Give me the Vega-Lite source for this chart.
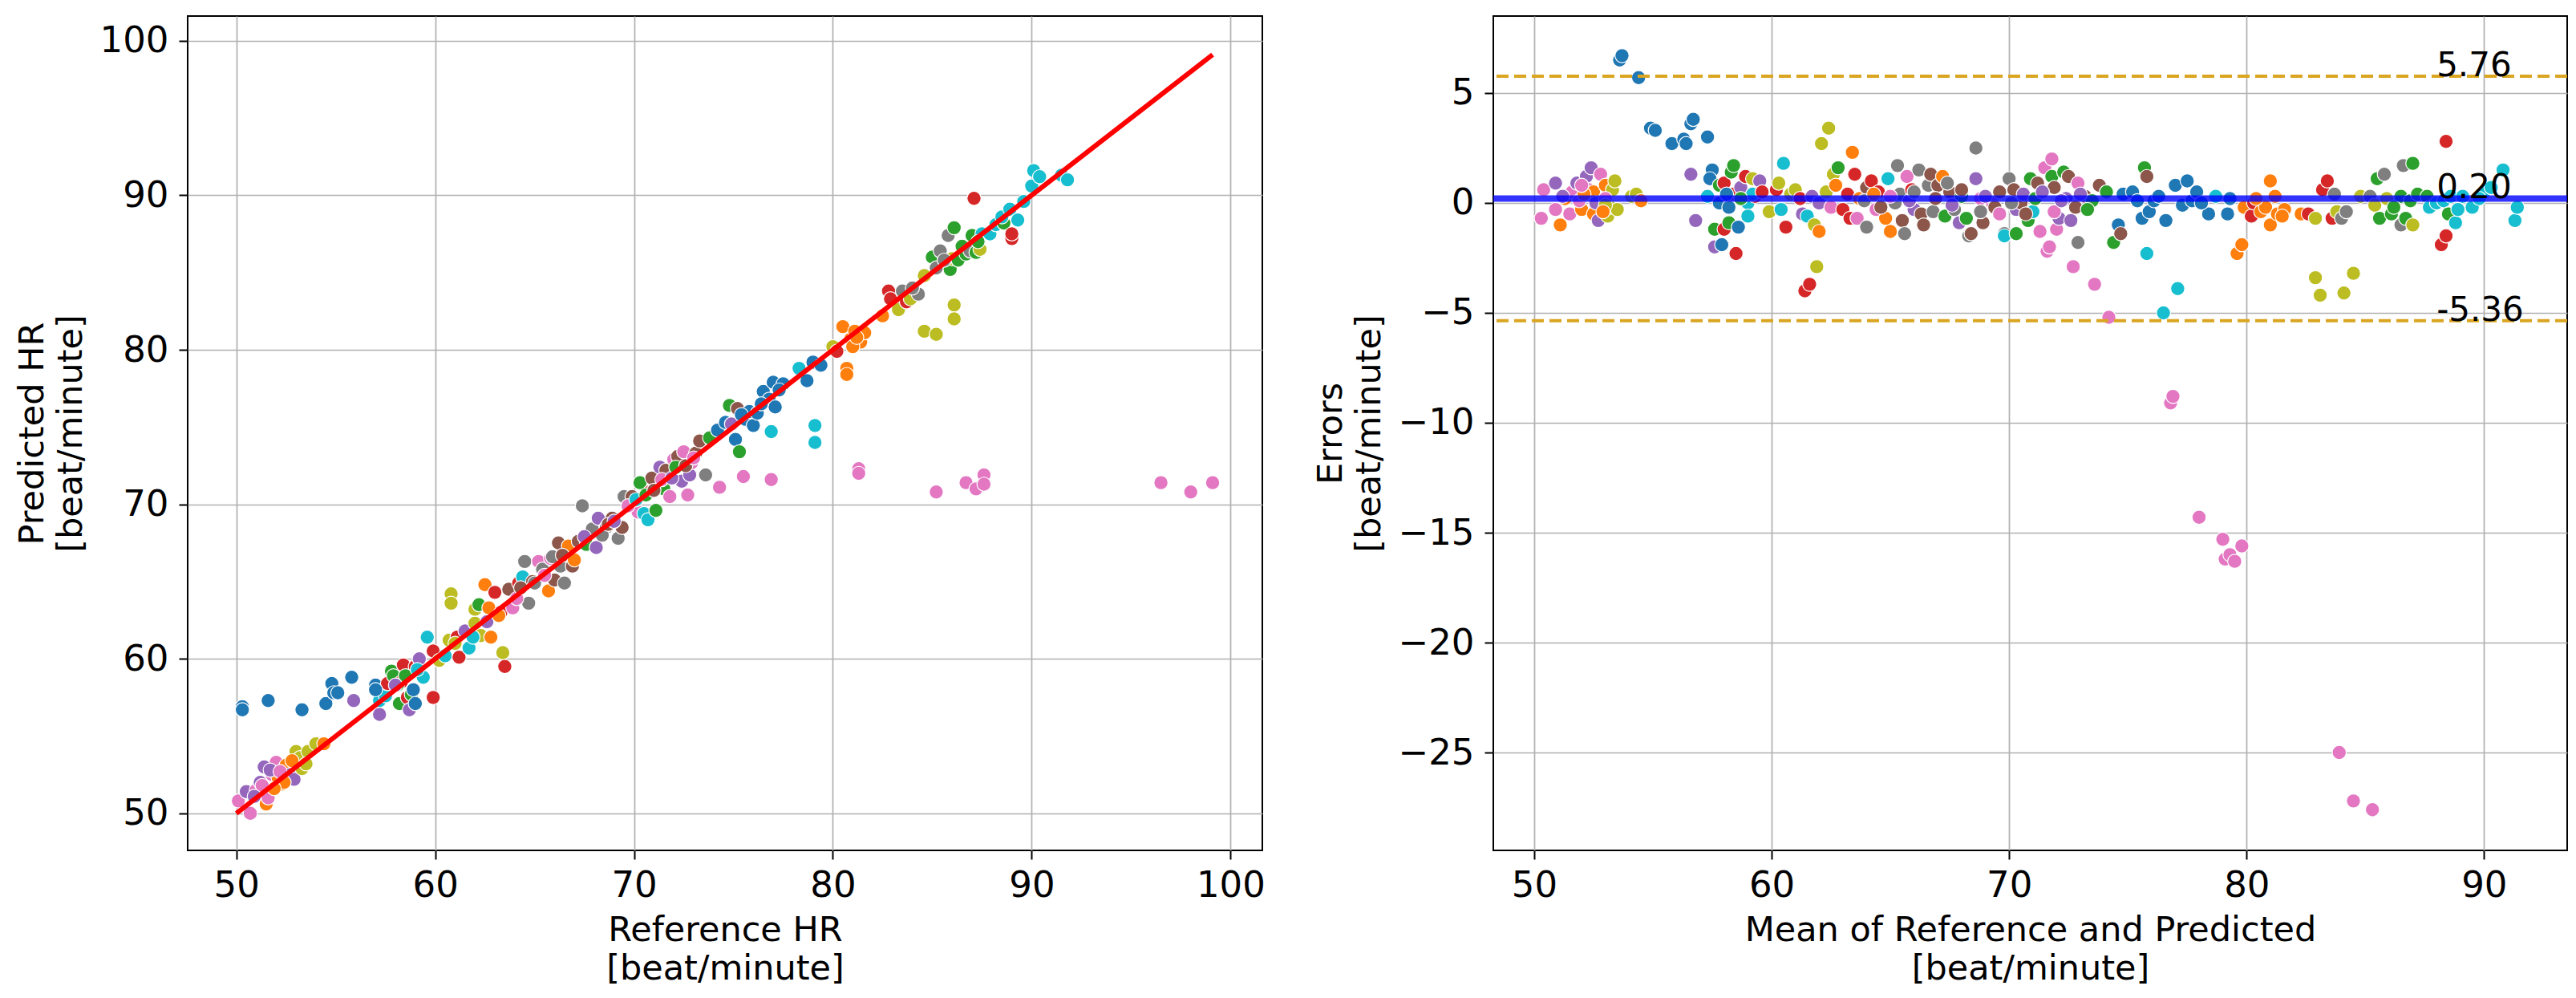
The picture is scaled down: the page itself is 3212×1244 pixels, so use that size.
{
  "$schema": "https://vega.github.io/schema/vega-lite/v6.json",
  "padding": {"left": 18, "top": 19, "right": 10, "bottom": 10},
  "background": "white",
  "spacing": 58,
  "datasets": {
    "hr": [
      {"c":"pink","ref":50.1,"pred":50.8},{"c":"purple","ref":50.5,"pred":51.4},{"c":"pink","ref":50.7,"pred":50.0},
      {"c":"pink","ref":51.0,"pred":51.5},{"c":"purple","ref":51.2,"pred":52.0},{"c":"purple","ref":51.4,"pred":53.0},
      {"c":"orange","ref":51.5,"pred":50.6},{"c":"pink","ref":51.6,"pred":51.0},{"c":"pink","ref":51.8,"pred":52.5},
      {"c":"pink","ref":52.0,"pred":53.3},{"c":"orange","ref":52.1,"pred":52.3},{"c":"orange","ref":52.3,"pred":51.9},
      {"c":"orange","ref":52.5,"pred":53.1},{"c":"purple","ref":52.7,"pred":52.5},{"c":"purple","ref":52.9,"pred":52.2},
      {"c":"olive","ref":53.0,"pred":54.0},{"c":"olive","ref":53.2,"pred":53.6},{"c":"olive","ref":53.3,"pred":52.9},
      {"c":"orange","ref":52.4,"pred":52.0},{"c":"orange","ref":51.9,"pred":51.6},{"c":"olive","ref":53.6,"pred":54.0},
      {"c":"olive","ref":54.0,"pred":54.5},{"c":"orange","ref":54.4,"pred":54.5},
      {"c":"pink","ref":51.3,"pred":51.8},{"c":"purple","ref":51.7,"pred":52.8},{"c":"orange","ref":52.8,"pred":53.4},
      {"c":"olive","ref":53.5,"pred":53.2},{"c":"pink","ref":52.2,"pred":52.7},{"c":"purple","ref":50.9,"pred":51.1},
      {"c":"blue","ref":50.3,"pred":56.9},{"c":"blue","ref":50.3,"pred":56.7},{"c":"blue","ref":51.6,"pred":57.3},
      {"c":"blue","ref":53.3,"pred":56.7},{"c":"blue","ref":54.5,"pred":57.1},{"c":"blue","ref":54.8,"pred":58.4},
      {"c":"blue","ref":54.9,"pred":57.8},{"c":"blue","ref":55.1,"pred":57.8},{"c":"blue","ref":55.8,"pred":58.8},
      {"c":"blue","ref":57.0,"pred":58.3},{"c":"purple","ref":55.9,"pred":57.3},{"c":"purple","ref":57.2,"pred":56.4},
      {"c":"cyan","ref":57.2,"pred":57.3},{"c":"cyan","ref":57.5,"pred":57.6},{"c":"red","ref":57.6,"pred":58.4},
      {"c":"green","ref":57.8,"pred":59.2},{"c":"green","ref":57.9,"pred":58.9},{"c":"green","ref":58.2,"pred":57.1},
      {"c":"red","ref":58.3,"pred":58.5},{"c":"red","ref":58.4,"pred":59.6},{"c":"red","ref":58.6,"pred":57.5},
      {"c":"purple","ref":58.7,"pred":56.7},{"c":"green","ref":58.8,"pred":57.7},{"c":"blue","ref":59.0,"pred":57.1},
      {"c":"red","ref":59.0,"pred":59.5},{"c":"purple","ref":59.2,"pred":60.0},{"c":"cyan","ref":59.4,"pred":58.8},
      {"c":"cyan","ref":59.6,"pred":61.4},{"c":"red","ref":59.9,"pred":57.5},{"c":"red","ref":59.9,"pred":60.5},
      {"c":"blue","ref":57.0,"pred":58.0},{"c":"green","ref":58.1,"pred":58.3},
      {"c":"green","ref":58.5,"pred":58.9},{"c":"blue","ref":58.9,"pred":58.0},{"c":"cyan","ref":59.1,"pred":59.3},
      {"c":"purple","ref":58.0,"pred":58.3},
      {"c":"olive","ref":60.2,"pred":59.9},{"c":"cyan","ref":60.5,"pred":60.2},{"c":"olive","ref":60.7,"pred":61.2},
      {"c":"olive","ref":60.8,"pred":64.2},{"c":"olive","ref":60.8,"pred":63.6},{"c":"red","ref":61.1,"pred":61.4},
      {"c":"red","ref":61.2,"pred":60.1},{"c":"purple","ref":61.5,"pred":61.8},{"c":"cyan","ref":61.7,"pred":60.7},
      {"c":"olive","ref":62.0,"pred":63.2},{"c":"olive","ref":62.0,"pred":62.3},{"c":"green","ref":62.2,"pred":63.5},
      {"c":"olive","ref":62.3,"pred":61.5},{"c":"orange","ref":62.5,"pred":64.8},{"c":"orange","ref":62.7,"pred":63.3},
      {"c":"orange","ref":62.8,"pred":61.4},{"c":"red","ref":63.0,"pred":64.3},{"c":"red","ref":63.3,"pred":63.0},
      {"c":"olive","ref":63.4,"pred":60.4},{"c":"red","ref":63.5,"pred":59.5},{"c":"brown","ref":63.7,"pred":64.5},
      {"c":"pink","ref":63.9,"pred":63.3},{"c":"red","ref":64.2,"pred":64.9},{"c":"cyan","ref":64.4,"pred":65.3},
      {"c":"gray","ref":64.5,"pred":66.3},{"c":"gray","ref":64.7,"pred":63.6},{"c":"brown","ref":64.9,"pred":65.0},
      {"c":"pink","ref":65.2,"pred":66.3},{"c":"gray","ref":65.4,"pred":65.8},{"c":"orange","ref":65.7,"pred":64.4},
      {"c":"brown","ref":66.0,"pred":65.1},{"c":"pink","ref":65.8,"pred":66.5},{"c":"brown","ref":66.2,"pred":67.5},
      {"c":"gray","ref":66.3,"pred":66.0},{"c":"gray","ref":66.5,"pred":64.9},{"c":"orange","ref":66.7,"pred":67.3},
      {"c":"brown","ref":66.9,"pred":66.0},{"c":"brown","ref":67.2,"pred":67.6},{"c":"gray","ref":67.4,"pred":69.9},
      {"c":"green","ref":67.6,"pred":67.4},{"c":"gray","ref":67.9,"pred":68.4},{"c":"purple","ref":68.1,"pred":67.2},
      {"c":"purple","ref":68.2,"pred":69.1},{"c":"gray","ref":68.6,"pred":68.5},{"c":"brown","ref":68.9,"pred":69.1},
      {"c":"gray","ref":69.2,"pred":67.8},{"c":"brown","ref":69.4,"pred":68.5},{"c":"gray","ref":69.5,"pred":70.5},
      {"c":"brown","ref":69.9,"pred":70.5},{"c":"pink","ref":70.2,"pred":69.5},{"c":"green","ref":70.3,"pred":71.4},
      {"c":"cyan","ref":70.5,"pred":69.4},{"c":"cyan","ref":70.7,"pred":69.0},{"c":"red","ref":70.8,"pred":70.8},
      {"c":"brown","ref":70.9,"pred":71.7},{"c":"green","ref":71.1,"pred":69.6},{"c":"purple","ref":71.3,"pred":72.4},
      {"c":"green","ref":71.5,"pred":71.0},{"c":"brown","ref":71.6,"pred":72.2},{"c":"pink","ref":71.8,"pred":70.5},
      {"c":"pink","ref":72.0,"pred":72.9},{"c":"brown","ref":72.2,"pred":73.1},{"c":"purple","ref":72.4,"pred":71.5},
      {"c":"pink","ref":72.5,"pred":73.4},{"c":"pink","ref":72.7,"pred":70.6},{"c":"purple","ref":72.8,"pred":71.9},
      {"c":"pink","ref":72.9,"pred":72.7},{"c":"brown","ref":73.1,"pred":73.3},{"c":"brown","ref":73.3,"pred":74.1},
      {"c":"olive","ref":61.0,"pred":61.0},{"c":"cyan","ref":61.9,"pred":61.4},{"c":"purple","ref":62.6,"pred":62.4},
      {"c":"orange","ref":63.2,"pred":62.8},{"c":"pink","ref":64.1,"pred":63.9},{"c":"brown","ref":64.3,"pred":64.6},
      {"c":"gray","ref":65.0,"pred":64.9},{"c":"pink","ref":65.5,"pred":65.4},{"c":"gray","ref":65.9,"pred":66.6},
      {"c":"brown","ref":66.4,"pred":66.7},{"c":"orange","ref":67.0,"pred":66.4},{"c":"purple","ref":67.5,"pred":67.9},
      {"c":"gray","ref":68.4,"pred":68.0},{"c":"brown","ref":68.7,"pred":68.7},{"c":"purple","ref":69.0,"pred":68.9},
      {"c":"pink","ref":69.7,"pred":69.9},{"c":"cyan","ref":70.1,"pred":70.3},{"c":"green","ref":70.6,"pred":70.6},
      {"c":"brown","ref":71.0,"pred":70.9},{"c":"pink","ref":71.4,"pred":71.6},{"c":"purple","ref":71.9,"pred":71.7},
      {"c":"green","ref":72.1,"pred":72.4},{"c":"brown","ref":72.6,"pred":72.5},{"c":"pink","ref":73.0,"pred":73.0},
      {"c":"gray","ref":73.6,"pred":71.9},{"c":"green","ref":73.8,"pred":74.3},{"c":"blue","ref":74.2,"pred":74.8},
      {"c":"pink","ref":74.3,"pred":71.1},{"c":"blue","ref":74.6,"pred":75.3},{"c":"green","ref":74.8,"pred":76.4},
      {"c":"purple","ref":74.9,"pred":75.2},{"c":"blue","ref":75.1,"pred":74.2},{"c":"brown","ref":75.2,"pred":76.2},
      {"c":"green","ref":75.3,"pred":73.4},{"c":"pink","ref":75.5,"pred":71.8},{"c":"blue","ref":75.6,"pred":75.5},
      {"c":"blue","ref":75.8,"pred":76.0},{"c":"blue","ref":76.0,"pred":75.1},{"c":"blue","ref":76.2,"pred":75.9},
      {"c":"blue","ref":76.5,"pred":77.3},{"c":"blue","ref":76.8,"pred":76.8},{"c":"cyan","ref":76.9,"pred":74.7},
      {"c":"pink","ref":76.9,"pred":71.6},{"c":"blue","ref":77.0,"pred":77.9},{"c":"blue","ref":77.1,"pred":76.3},
      {"c":"blue","ref":77.5,"pred":77.8},{"c":"cyan","ref":78.3,"pred":78.8},{"c":"blue","ref":78.7,"pred":78.0},
      {"c":"blue","ref":79.0,"pred":79.2},{"c":"cyan","ref":79.1,"pred":75.1},{"c":"cyan","ref":79.1,"pred":74.0},
      {"c":"blue","ref":79.4,"pred":79.0},{"c":"olive","ref":80.0,"pred":80.2},{"c":"red","ref":80.2,"pred":79.9},
      {"c":"blue","ref":75.4,"pred":75.8},{"c":"blue","ref":76.4,"pred":76.5},{"c":"blue","ref":77.3,"pred":77.4},
      {"c":"orange","ref":80.5,"pred":81.5},{"c":"orange","ref":80.7,"pred":78.8},{"c":"orange","ref":80.7,"pred":78.4},
      {"c":"orange","ref":80.9,"pred":80.7},{"c":"orange","ref":81.1,"pred":81.2},{"c":"pink","ref":81.3,"pred":72.3},
      {"c":"pink","ref":81.3,"pred":72.0},{"c":"orange","ref":81.4,"pred":80.5},{"c":"orange","ref":81.6,"pred":81.1},
      {"c":"orange","ref":81.0,"pred":80.2},{"c":"orange","ref":81.2,"pred":80.8},{"c":"red","ref":83.2,"pred":83.4},
      {"c":"orange","ref":82.5,"pred":82.2},{"c":"red","ref":82.8,"pred":83.8},{"c":"red","ref":82.9,"pred":83.3},
      {"c":"olive","ref":83.3,"pred":82.6},{"c":"gray","ref":83.5,"pred":83.8},{"c":"red","ref":83.7,"pred":83.1},
      {"c":"olive","ref":83.9,"pred":83.3},{"c":"gray","ref":84.3,"pred":83.6},{"c":"olive","ref":84.6,"pred":81.2},
      {"c":"olive","ref":84.6,"pred":84.8},{"c":"green","ref":85.0,"pred":86.0},{"c":"olive","ref":85.2,"pred":81.0},
      {"c":"gray","ref":85.2,"pred":85.3},{"c":"pink","ref":85.2,"pred":70.8},{"c":"gray","ref":85.4,"pred":86.4},
      {"c":"gray","ref":85.8,"pred":87.4},{"c":"green","ref":85.9,"pred":85.2},{"c":"olive","ref":86.0,"pred":85.9},
      {"c":"green","ref":86.1,"pred":87.9},{"c":"olive","ref":86.1,"pred":82.9},{"c":"olive","ref":86.1,"pred":82.0},
      {"c":"green","ref":86.3,"pred":85.8},{"c":"green","ref":86.5,"pred":86.7},{"c":"pink","ref":86.7,"pred":71.4},
      {"c":"gray","ref":84.0,"pred":84.0},{"c":"gray","ref":85.6,"pred":85.8},{"c":"green","ref":86.7,"pred":86.2},
      {"c":"gray","ref":86.9,"pred":86.4},{"c":"green","ref":87.0,"pred":87.4},{"c":"red","ref":87.1,"pred":89.8},
      {"c":"pink","ref":87.2,"pred":71.0},{"c":"green","ref":87.2,"pred":86.3},{"c":"olive","ref":87.4,"pred":86.5},
      {"c":"cyan","ref":87.5,"pred":87.5},{"c":"pink","ref":87.6,"pred":71.9},{"c":"pink","ref":87.6,"pred":71.3},
      {"c":"cyan","ref":87.9,"pred":87.5},{"c":"cyan","ref":88.2,"pred":88.1},{"c":"green","ref":88.6,"pred":88.2},
      {"c":"green","ref":87.3,"pred":87.0},{"c":"cyan","ref":88.5,"pred":88.6},
      {"c":"cyan","ref":88.9,"pred":89.1},{"c":"red","ref":89.0,"pred":87.2},{"c":"red","ref":89.0,"pred":87.5},
      {"c":"cyan","ref":89.3,"pred":88.4},{"c":"cyan","ref":89.6,"pred":89.6},{"c":"cyan","ref":90.0,"pred":90.6},
      {"c":"cyan","ref":90.1,"pred":91.6},{"c":"cyan","ref":90.4,"pred":91.2},{"c":"cyan","ref":91.5,"pred":91.3},
      {"c":"cyan","ref":91.8,"pred":91.0},{"c":"pink","ref":96.5,"pred":71.4},{"c":"pink","ref":98.0,"pred":70.8},
      {"c":"pink","ref":99.1,"pred":71.4}
    ],
    "identity": [{"ref": 50.0, "pred": 50.0}, {"ref": 99.1, "pred": 99.1}],
    "ba": [
      {"c":"pink","mean":50.3,"err":-0.7},{"c":"pink","mean":50.4,"err":0.6},{"c":"purple","mean":50.9,"err":0.9},
      {"c":"pink","mean":50.9,"err":-0.3},{"c":"orange","mean":51.1,"err":-1.0},{"c":"orange","mean":51.3,"err":0.2},
      {"c":"pink","mean":51.5,"err":-0.5},{"c":"pink","mean":51.6,"err":0.5},{"c":"purple","mean":51.8,"err":0.9},
      {"c":"orange","mean":52.0,"err":-0.3},{"c":"purple","mean":52.2,"err":1.2},{"c":"pink","mean":52.3,"err":0.6},
      {"c":"purple","mean":52.4,"err":1.6},{"c":"orange","mean":52.5,"err":-0.5},{"c":"orange","mean":52.5,"err":0.5},
      {"c":"purple","mean":52.6,"err":0.0},{"c":"purple","mean":52.7,"err":-0.8},{"c":"pink","mean":52.8,"err":1.3},
      {"c":"orange","mean":53.0,"err":0.8},{"c":"olive","mean":53.1,"err":-0.6},{"c":"olive","mean":53.2,"err":-0.2},
      {"c":"olive","mean":53.3,"err":0.6},{"c":"olive","mean":53.4,"err":1.0},{"c":"olive","mean":53.5,"err":-0.3},
      {"c":"pink","mean":53.0,"err":0.2},{"c":"olive","mean":54.1,"err":0.3},{"c":"olive","mean":54.3,"err":0.4},
      {"c":"orange","mean":54.5,"err":0.1},
      {"c":"purple","mean":51.2,"err":0.3},{"c":"pink","mean":51.9,"err":0.1},{"c":"orange","mean":52.1,"err":0.4},
      {"c":"olive","mean":53.0,"err":-0.1},{"c":"orange","mean":52.9,"err":-0.4},{"c":"pink","mean":52.0,"err":0.8},
      {"c":"blue","mean":53.6,"err":6.5},{"c":"blue","mean":53.7,"err":6.7},{"c":"blue","mean":54.4,"err":5.7},
      {"c":"blue","mean":54.9,"err":3.4},{"c":"blue","mean":55.1,"err":3.3},{"c":"blue","mean":55.8,"err":2.7},
      {"c":"blue","mean":56.3,"err":2.9},{"c":"blue","mean":56.4,"err":2.7},{"c":"blue","mean":56.6,"err":3.6},
      {"c":"blue","mean":56.7,"err":3.8},{"c":"blue","mean":57.3,"err":3.0},{"c":"purple","mean":56.6,"err":1.3},
      {"c":"purple","mean":56.8,"err":-0.8},{"c":"cyan","mean":57.3,"err":0.3},{"c":"blue","mean":57.5,"err":1.5},
      {"c":"blue","mean":57.4,"err":1.1},{"c":"purple","mean":57.6,"err":-2.0},{"c":"green","mean":57.6,"err":-1.2},
      {"c":"green","mean":57.8,"err":0.8},{"c":"blue","mean":57.8,"err":0.0},{"c":"blue","mean":57.9,"err":-1.9},
      {"c":"red","mean":58.0,"err":0.9},{"c":"red","mean":58.0,"err":-1.2},{"c":"blue","mean":58.2,"err":-0.2},
      {"c":"green","mean":58.2,"err":-0.9},{"c":"green","mean":58.3,"err":1.4},{"c":"green","mean":58.4,"err":1.7},
      {"c":"red","mean":58.4,"err":0.4},{"c":"red","mean":58.5,"err":-2.3},{"c":"blue","mean":58.6,"err":-1.1},
      {"c":"purple","mean":58.7,"err":0.7},{"c":"red","mean":58.9,"err":1.2},{"c":"cyan","mean":59.0,"err":0.0},
      {"c":"cyan","mean":59.0,"err":-0.6},{"c":"olive","mean":59.2,"err":1.1},{"c":"red","mean":59.3,"err":0.3},
      {"c":"purple","mean":59.5,"err":1.0},
      {"c":"cyan","mean":59.2,"err":0.4},{"c":"green","mean":58.7,"err":0.2},{"c":"red","mean":59.6,"err":0.5},
      {"c":"blue","mean":58.1,"err":0.4},
      {"c":"olive","mean":59.9,"err":-0.4},{"c":"red","mean":60.2,"err":0.6},{"c":"olive","mean":60.3,"err":0.9},
      {"c":"cyan","mean":60.4,"err":-0.3},{"c":"cyan","mean":60.5,"err":1.8},{"c":"red","mean":60.6,"err":-1.1},
      {"c":"olive","mean":60.8,"err":0.4},{"c":"olive","mean":61.0,"err":0.6},{"c":"red","mean":61.2,"err":0.2},
      {"c":"purple","mean":61.3,"err":-0.5},{"c":"red","mean":61.4,"err":-4.0},{"c":"red","mean":61.6,"err":-3.7},
      {"c":"cyan","mean":61.5,"err":-0.6},{"c":"purple","mean":61.7,"err":0.3},{"c":"olive","mean":61.8,"err":-1.0},
      {"c":"olive","mean":61.9,"err":-2.9},{"c":"purple","mean":62.0,"err":0.0},{"c":"orange","mean":62.0,"err":-1.3},
      {"c":"olive","mean":62.1,"err":2.7},{"c":"olive","mean":62.3,"err":0.5},{"c":"olive","mean":62.4,"err":3.4},
      {"c":"pink","mean":62.5,"err":-0.2},{"c":"olive","mean":62.6,"err":1.3},{"c":"orange","mean":62.7,"err":0.8},
      {"c":"green","mean":62.8,"err":1.6},{"c":"red","mean":63.0,"err":-0.3},{"c":"red","mean":63.2,"err":0.4},
      {"c":"red","mean":63.3,"err":-0.7},{"c":"orange","mean":63.4,"err":2.3},{"c":"red","mean":63.5,"err":1.3},
      {"c":"pink","mean":63.6,"err":-0.7},{"c":"orange","mean":63.7,"err":0.2},{"c":"brown","mean":64.0,"err":0.7},
      {"c":"gray","mean":64.0,"err":-1.1},{"c":"red","mean":64.2,"err":1.0},{"c":"pink","mean":64.4,"err":-0.3},
      {"c":"red","mean":64.5,"err":0.5},{"c":"orange","mean":64.8,"err":-0.7},{"c":"cyan","mean":64.9,"err":1.1},
      {"c":"orange","mean":65.0,"err":-1.3},{"c":"gray","mean":65.2,"err":0.0},{"c":"gray","mean":65.3,"err":1.7},
      {"c":"gray","mean":65.4,"err":0.4},{"c":"brown","mean":65.5,"err":-0.8},{"c":"gray","mean":65.6,"err":-1.4},
      {"c":"pink","mean":65.7,"err":1.2},{"c":"red","mean":65.9,"err":0.6},{"c":"purple","mean":66.0,"err":-0.3},
      {"c":"gray","mean":66.2,"err":1.5},{"c":"brown","mean":66.3,"err":-0.5},{"c":"brown","mean":66.4,"err":-1.0},
      {"c":"gray","mean":66.6,"err":0.8},{"c":"brown","mean":66.7,"err":1.3},{"c":"gray","mean":66.8,"err":-0.4},
      {"c":"brown","mean":67.0,"err":0.8},{"c":"orange","mean":67.2,"err":1.2},{"c":"green","mean":67.3,"err":-0.6},
      {"c":"brown","mean":67.5,"err":0.5},{"c":"gray","mean":67.7,"err":-0.3},{"c":"purple","mean":67.9,"err":-0.9},
      {"c":"green","mean":68.0,"err":0.3},{"c":"green","mean":68.2,"err":-0.7},{"c":"gray","mean":68.3,"err":-1.5},
      {"c":"brown","mean":68.4,"err":-1.4},{"c":"purple","mean":68.6,"err":1.1},{"c":"gray","mean":68.6,"err":2.5},
      {"c":"pink","mean":68.8,"err":0.2},{"c":"brown","mean":68.9,"err":-0.9},{"c":"pink","mean":69.3,"err":0.0},
      {"c":"brown","mean":69.6,"err":0.5},{"c":"gray","mean":69.8,"err":-1.4},{"c":"cyan","mean":69.8,"err":-1.5},
      {"c":"gray","mean":70.0,"err":1.1},{"c":"brown","mean":70.2,"err":0.6},{"c":"purple","mean":70.3,"err":-0.3},
      {"c":"green","mean":70.3,"err":-1.4},{"c":"brown","mean":70.5,"err":0.0},{"c":"green","mean":70.8,"err":-0.8},
      {"c":"green","mean":70.9,"err":1.1},{"c":"cyan","mean":71.0,"err":-0.4},{"c":"brown","mean":71.2,"err":0.9},
      {"c":"pink","mean":71.3,"err":-1.3},{"c":"pink","mean":71.5,"err":1.6},{"c":"pink","mean":71.6,"err":-2.2},
      {"c":"pink","mean":71.7,"err":-2.0},{"c":"green","mean":71.8,"err":1.2},{"c":"pink","mean":71.8,"err":2.0},
      {"c":"brown","mean":71.9,"err":0.7},{"c":"pink","mean":72.0,"err":-1.2},{"c":"purple","mean":72.1,"err":-0.7},
      {"c":"green","mean":72.3,"err":1.4},{"c":"purple","mean":72.4,"err":0.2},{"c":"brown","mean":72.5,"err":1.2},
      {"c":"purple","mean":72.6,"err":-0.8},{"c":"pink","mean":72.7,"err":-2.9},{"c":"pink","mean":72.9,"err":0.9},
      {"c":"gray","mean":72.9,"err":-1.8},{"c":"brown","mean":73.2,"err":0.3},{"c":"green","mean":73.5,"err":0.1},
      {"c":"gray","mean":63.9,"err":0.1},{"c":"orange","mean":64.3,"err":0.4},{"c":"brown","mean":64.6,"err":-0.2},
      {"c":"pink","mean":65.0,"err":0.3},{"c":"purple","mean":65.8,"err":0.1},{"c":"gray","mean":66.0,"err":0.5},
      {"c":"brown","mean":66.9,"err":0.2},{"c":"gray","mean":67.4,"err":0.9},{"c":"purple","mean":67.6,"err":-0.1},
      {"c":"brown","mean":68.0,"err":0.6},{"c":"gray","mean":68.8,"err":-0.4},{"c":"purple","mean":69.0,"err":0.3},
      {"c":"brown","mean":69.4,"err":-0.2},{"c":"pink","mean":69.6,"err":-0.5},{"c":"gray","mean":70.1,"err":0.0},
      {"c":"purple","mean":70.6,"err":0.4},{"c":"brown","mean":70.7,"err":-0.5},{"c":"green","mean":71.1,"err":0.2},
      {"c":"purple","mean":71.4,"err":0.5},{"c":"pink","mean":71.9,"err":-0.4},{"c":"purple","mean":72.2,"err":0.1},
      {"c":"brown","mean":72.8,"err":-0.2},{"c":"purple","mean":73.0,"err":0.4},{"c":"green","mean":73.3,"err":-0.3},
      {"c":"pink","mean":73.6,"err":-3.7},{"c":"brown","mean":73.8,"err":0.8},{"c":"green","mean":74.1,"err":0.5},
      {"c":"pink","mean":74.2,"err":-5.2},{"c":"green","mean":74.4,"err":-1.8},{"c":"blue","mean":74.6,"err":-1.0},
      {"c":"brown","mean":74.7,"err":-1.4},{"c":"blue","mean":74.8,"err":0.4},{"c":"blue","mean":75.2,"err":0.5},
      {"c":"blue","mean":75.6,"err":-0.7},{"c":"green","mean":75.7,"err":1.6},{"c":"brown","mean":75.8,"err":1.2},
      {"c":"cyan","mean":75.8,"err":-2.3},{"c":"blue","mean":75.9,"err":-0.4},{"c":"blue","mean":76.1,"err":0.1},
      {"c":"cyan","mean":76.5,"err":-5.0},{"c":"blue","mean":76.6,"err":-0.8},{"c":"pink","mean":76.8,"err":-9.1},
      {"c":"pink","mean":76.9,"err":-8.8},{"c":"blue","mean":77.0,"err":0.8},{"c":"cyan","mean":77.1,"err":-3.9},
      {"c":"blue","mean":77.3,"err":-0.1},{"c":"blue","mean":77.5,"err":1.0},{"c":"blue","mean":77.7,"err":0.1},
      {"c":"blue","mean":77.9,"err":0.5},{"c":"pink","mean":78.0,"err":-14.3},{"c":"blue","mean":78.4,"err":-0.5},
      {"c":"blue","mean":75.4,"err":0.1},{"c":"blue","mean":76.3,"err":0.3},{"c":"blue","mean":78.1,"err":0.0},
      {"c":"cyan","mean":78.7,"err":0.3},{"c":"pink","mean":79.0,"err":-15.3},{"c":"pink","mean":79.1,"err":-16.2},
      {"c":"blue","mean":79.2,"err":-0.5},{"c":"blue","mean":79.3,"err":0.2},{"c":"pink","mean":79.3,"err":-16.0},
      {"c":"pink","mean":79.5,"err":-16.3},{"c":"orange","mean":79.6,"err":-2.3},{"c":"orange","mean":79.8,"err":-1.9},
      {"c":"pink","mean":79.8,"err":-15.6},{"c":"orange","mean":79.9,"err":-0.2},{"c":"red","mean":80.2,"err":-0.6},
      {"c":"red","mean":80.3,"err":0.0},{"c":"orange","mean":80.6,"err":-0.4},{"c":"orange","mean":80.8,"err":-0.2},
      {"c":"orange","mean":81.0,"err":1.0},{"c":"orange","mean":81.0,"err":-1.0},{"c":"orange","mean":81.2,"err":0.3},
      {"c":"orange","mean":81.3,"err":-0.5},{"c":"orange","mean":81.6,"err":-0.3},{"c":"orange","mean":82.3,"err":-0.5},
      {"c":"orange","mean":80.4,"err":0.2},{"c":"orange","mean":81.5,"err":-0.6},
      {"c":"red","mean":82.6,"err":-0.5},{"c":"olive","mean":82.9,"err":-3.4},{"c":"olive","mean":82.9,"err":-0.7},
      {"c":"olive","mean":83.1,"err":-4.2},{"c":"red","mean":83.2,"err":0.6},{"c":"red","mean":83.4,"err":1.0},
      {"c":"red","mean":83.6,"err":-0.7},{"c":"gray","mean":83.7,"err":0.4},{"c":"olive","mean":83.8,"err":-0.4},
      {"c":"pink","mean":83.9,"err":-25.0},{"c":"gray","mean":84.0,"err":-0.7},{"c":"olive","mean":84.1,"err":-4.1},
      {"c":"gray","mean":84.2,"err":-0.4},{"c":"olive","mean":84.5,"err":-3.2},{"c":"pink","mean":84.5,"err":-27.2},
      {"c":"olive","mean":84.8,"err":0.3},{"c":"gray","mean":85.2,"err":0.3},{"c":"pink","mean":85.3,"err":-27.6},
      {"c":"olive","mean":85.4,"err":-0.1},{"c":"green","mean":85.5,"err":1.1},{"c":"green","mean":85.6,"err":-0.7},
      {"c":"gray","mean":85.8,"err":1.3},{"c":"olive","mean":85.9,"err":0.2},{"c":"green","mean":86.1,"err":-0.5},
      {"c":"green","mean":86.5,"err":0.3},{"c":"gray","mean":86.5,"err":-1.0},{"c":"gray","mean":86.6,"err":1.7},
      {"c":"green","mean":86.7,"err":-0.7},{"c":"green","mean":86.9,"err":0.1},{"c":"olive","mean":87.0,"err":-1.0},
      {"c":"green","mean":87.0,"err":1.8},{"c":"green","mean":87.2,"err":0.4},{"c":"green","mean":87.6,"err":0.3},
      {"c":"green","mean":86.2,"err":-0.2},
      {"c":"cyan","mean":87.7,"err":-0.2},{"c":"cyan","mean":88.0,"err":0.0},{"c":"red","mean":88.2,"err":-1.9},
      {"c":"cyan","mean":88.3,"err":0.1},{"c":"red","mean":88.4,"err":-1.5},{"c":"red","mean":88.4,"err":2.8},
      {"c":"green","mean":88.5,"err":-0.5},{"c":"cyan","mean":88.6,"err":0.3},{"c":"cyan","mean":88.8,"err":-0.9},
      {"c":"cyan","mean":89.1,"err":0.3},{"c":"cyan","mean":89.5,"err":-0.2},{"c":"cyan","mean":90.0,"err":0.5},
      {"c":"cyan","mean":90.3,"err":0.7},{"c":"cyan","mean":90.8,"err":1.5},{"c":"cyan","mean":91.3,"err":-0.8},
      {"c":"cyan","mean":91.4,"err":-0.2},{"c":"cyan","mean":89.8,"err":0.2},{"c":"cyan","mean":88.9,"err":-0.3}
    ],
    "balines": [
      {"err": 5.76, "lab": "5.76", "kind": "loa"},
      {"err": 0.2, "lab": "0.20", "kind": "bias"},
      {"err": -5.36, "lab": "-5.36", "kind": "loa"}
    ]
  },
  "hconcat": [
    {
      "width": 1340,
      "height": 1040,
      "layer": [
        {
          "data": {"name": "hr"},
          "mark": {"type": "circle", "size": 310, "opacity": 1, "stroke": "white", "strokeWidth": 1.2},
          "encoding": {
            "x": {"field": "ref", "type": "quantitative", "title": ["Reference HR", "[beat/minute]"],
                  "scale": {"domain": [47.55, 101.6], "nice": false, "zero": false},
                  "axis": {"values": [50, 60, 70, 80, 90, 100]}},
            "y": {"field": "pred", "type": "quantitative", "title": ["Predicted HR", "[beat/minute]"],
                  "scale": {"domain": [47.6, 101.6], "nice": false, "zero": false},
                  "axis": {"values": [50, 60, 70, 80, 90, 100]}},
            "color": {"field": "c", "type": "nominal", "legend": null,
                      "scale": {"domain": ["blue","orange","green","red","purple","brown","pink","gray","olive","cyan"],
                                "range": ["#1f77b4","#ff7f0e","#2ca02c","#d62728","#9467bd","#8c564b","#e377c2","#7f7f7f","#bcbd22","#17becf"]}}
          }
        },
        {
          "data": {"name": "identity"},
          "mark": {"type": "line", "color": "#ff0000", "strokeWidth": 6},
          "encoding": {
            "x": {"field": "ref", "type": "quantitative", "title": ["Reference HR", "[beat/minute]"]},
            "y": {"field": "pred", "type": "quantitative", "title": ["Predicted HR", "[beat/minute]"]}
          }
        }
      ]
    },
    {
      "width": 1339,
      "height": 1040,
      "layer": [
        {
          "data": {"name": "ba"},
          "mark": {"type": "circle", "size": 310, "opacity": 1, "stroke": "white", "strokeWidth": 1.2},
          "encoding": {
            "x": {"field": "mean", "type": "quantitative", "title": ["Mean of Reference and Predicted", "[beat/minute]"],
                  "scale": {"domain": [48.28, 93.5], "nice": false, "zero": false},
                  "axis": {"values": [50, 60, 70, 80, 90]}},
            "y": {"field": "err", "type": "quantitative", "title": ["Errors", "[beat/minute]"],
                  "scale": {"domain": [-29.45, 8.5], "nice": false, "zero": false},
                  "axis": {"values": [-25, -20, -15, -10, -5, 0, 5]}},
            "color": {"field": "c", "type": "nominal", "legend": null,
                      "scale": {"domain": ["blue","orange","green","red","purple","brown","pink","gray","olive","cyan"],
                                "range": ["#1f77b4","#ff7f0e","#2ca02c","#d62728","#9467bd","#8c564b","#e377c2","#7f7f7f","#bcbd22","#17becf"]}}
          }
        },
        {
          "data": {"name": "balines"},
          "transform": [{"filter": "datum.kind === 'bias'"}],
          "mark": {"type": "rule", "color": "#0000ff", "opacity": 0.8, "strokeWidth": 8},
          "encoding": {
            "y": {"field": "err", "type": "quantitative", "title": ["Errors", "[beat/minute]"]}
          }
        },
        {
          "data": {"name": "balines"},
          "transform": [{"filter": "datum.kind === 'loa'"}],
          "mark": {"type": "rule", "color": "#daa520", "strokeWidth": 4, "strokeDash": [15, 7]},
          "encoding": {
            "y": {"field": "err", "type": "quantitative", "title": ["Errors", "[beat/minute]"]}
          }
        },
        {
          "data": {"name": "balines"},
          "mark": {"type": "text", "align": "left", "baseline": "alphabetic", "fontSize": 42, "font": "DejaVu Sans", "color": "black"},
          "encoding": {
            "x": {"datum": 88},
            "y": {"field": "err", "type": "quantitative", "title": ["Errors", "[beat/minute]"]},
            "text": {"field": "lab", "type": "nominal"}
          }
        }
      ]
    }
  ],
  "config": {
    "font": "DejaVu Sans",
    "view": {"stroke": "black", "strokeWidth": 2},
    "axis": {
      "domain": false,
      "grid": true,
      "gridColor": "#b0b0b0",
      "gridWidth": 1.7,
      "gridOpacity": 1,
      "tickColor": "black",
      "tickWidth": 2,
      "tickSize": 11,
      "labelFont": "DejaVu Sans",
      "labelFontSize": 45,
      "labelColor": "black",
      "titleFont": "DejaVu Sans",
      "titleFontSize": 43,
      "titleFontWeight": "normal",
      "titleColor": "black",
      "titleLineHeight": 48
    },
    "axisX": {"labelPadding": 10, "titlePadding": 12},
    "axisY": {"labelPadding": 13, "titlePadding": 14}
  }
}
